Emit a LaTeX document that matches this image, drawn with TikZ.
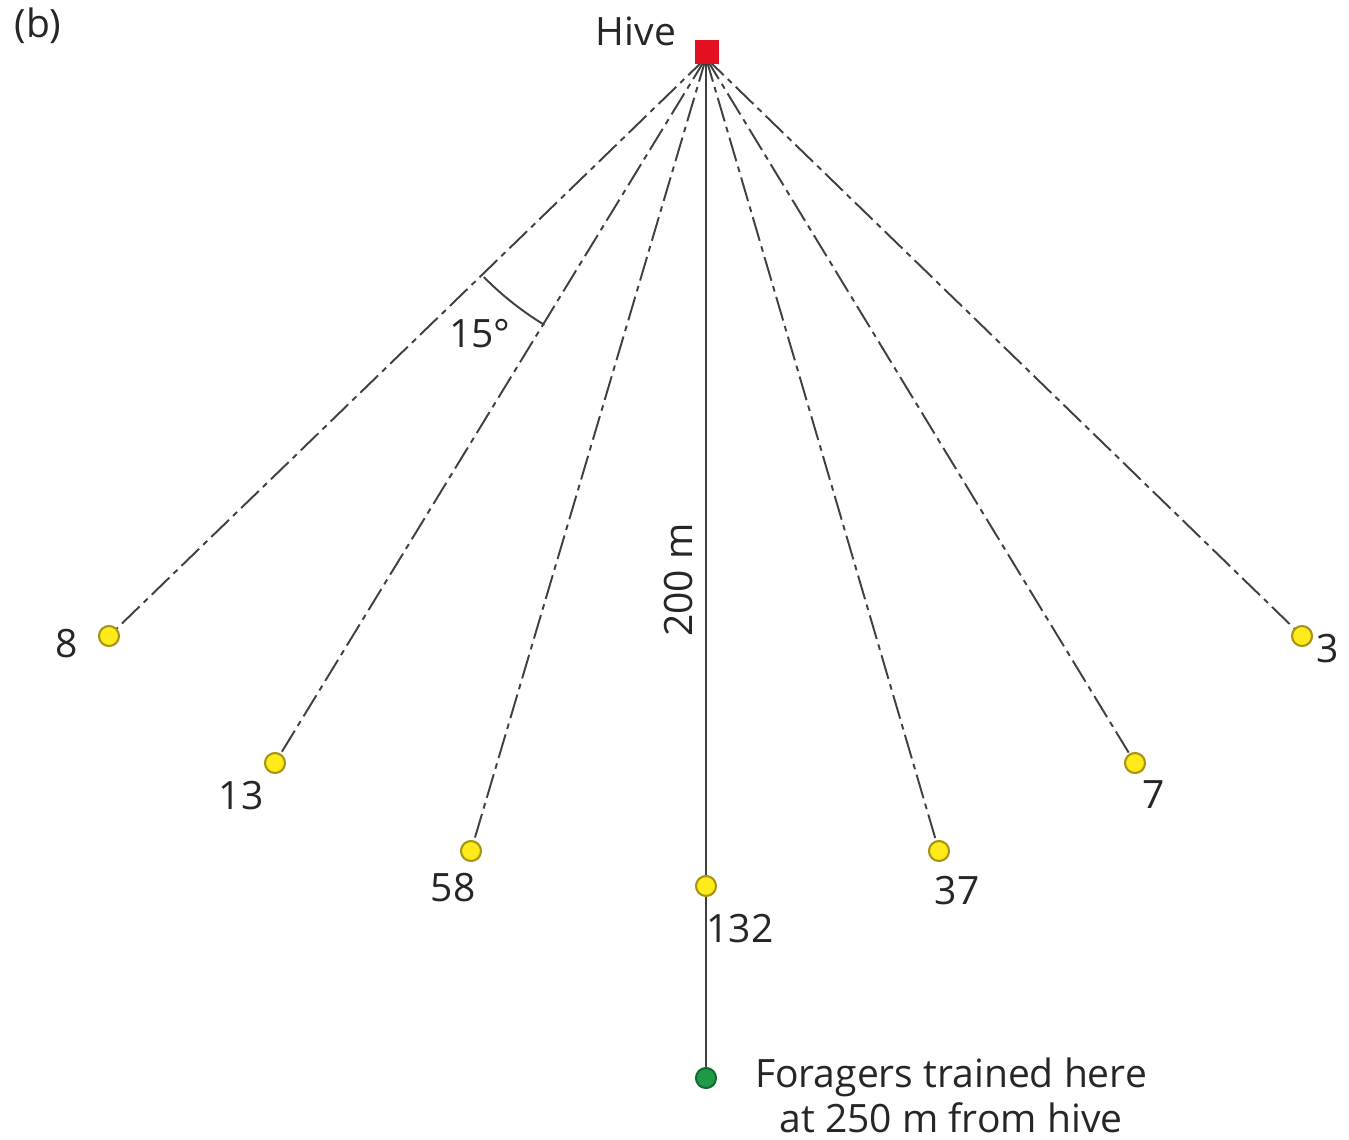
\documentclass[tikz,border=0pt]{standalone}
\usepackage{fontspec}
\setmainfont{Open Sans}
\definecolor{hivered}{HTML}{E3101F}
\definecolor{feedyellow}{HTML}{FFEA1A}
\definecolor{feededge}{HTML}{A89412}
\definecolor{traingreen}{HTML}{1E9A48}
\definecolor{trainedge}{HTML}{146B30}
\begin{document}
\begin{tikzpicture}[x=0.01cm, y=0.01cm, font=\fontsize{11.1}{12.8}\selectfont, line join=round,
	feeder/.style={circle, draw=feededge, fill=feedyellow, line width=0.6pt, minimum size=0.2cm, inner sep=0pt},
	trained/.style={circle, draw=trainedge, fill=traingreen, line width=0.6pt, minimum size=0.2cm, inner sep=0pt},
	hivebox/.style={rectangle, fill=hivered, minimum size=0.24cm, inner sep=0pt},
	route/.style={black!75, line width=0.55pt},
	dashroute/.style={route, dash pattern=on 7pt off 1.6pt on 1.6pt off 1.6pt},
	lbl/.style={anchor=base, text=black!85, inner sep=0pt}]
	\useasboundingbox (0,0) rectangle (1349,-1139);
	\coordinate (apex) at (706,-58);
	\node[feeder] (f8) at (109,-636) {};
	\node[feeder] (f13) at (275,-763) {};
	\node[feeder] (f58) at (471,-851) {};
	\node[feeder] (f132) at (706,-886) {};
	\node[feeder] (f37) at (939,-851) {};
	\node[feeder] (f7) at (1135,-763) {};
	\node[feeder] (f3) at (1302,-636) {};
	\node[trained] (train) at (706,-1078) {};
	\draw[route] (apex) -- (f132) -- (train);
	\foreach \f in {f8,f13,f58,f37,f7,f3}
		\draw[dashroute] (apex) -- (\f);
	\draw[route] ([shift={(224.6:312)}]apex) arc[start angle=224.6, end angle=238.8, radius=312];
	\node[hivebox] (hive) at (707,-52) {};
	\node[lbl] (hivetxt) at (636,-45) {Hive};
	\node[lbl] (panel) at (38,-37) {(b)};
	\node[lbl] (angle) at (480,-347) {15°};
	\node[lbl, rotate=90] (dist) at (692,-580) {200 m};
	\node[lbl] (n8) at (67,-657) {8};
	\node[lbl] (n13) at (241,-809) {13};
	\node[lbl] (n58) at (453,-901) {58};
	\node[lbl] (n132) at (740,-942) {132};
	\node[lbl] (n37) at (957,-904) {37};
	\node[lbl] (n7) at (1154,-808) {7};
	\node[lbl] (n3) at (1328,-662) {3};
	\node[lbl, align=center] (traintxt) at (951,-1132) {Foragers trained here\\at 250 m from hive};
\end{tikzpicture}
\end{document}
